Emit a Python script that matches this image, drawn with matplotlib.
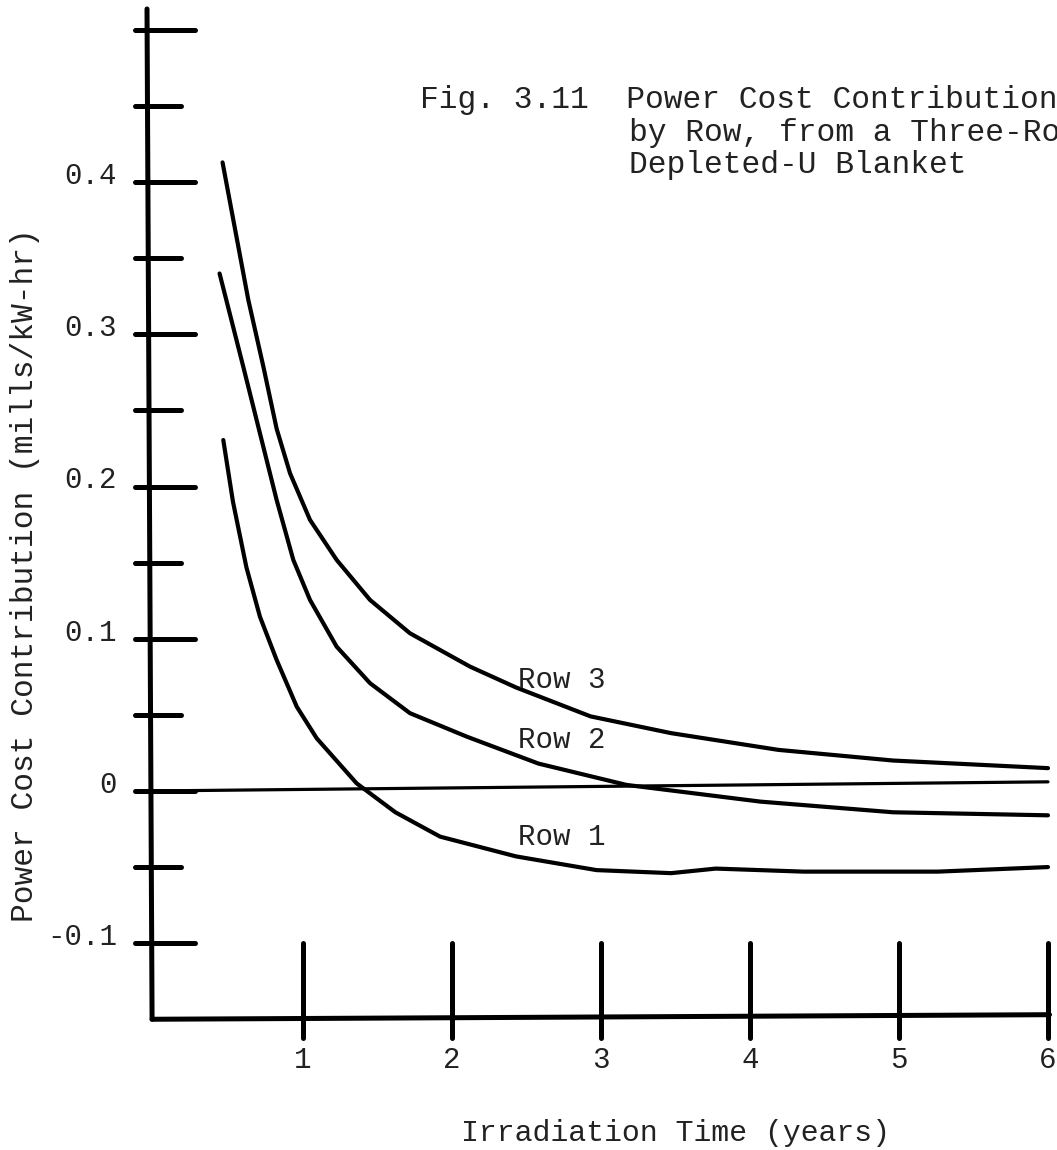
import matplotlib
matplotlib.use("Agg")
import matplotlib.pyplot as plt

# ---- data ----
row3_t = [0.46, 0.633, 0.734, 0.823, 0.913, 1.047, 1.226, 1.45, 1.718, 2.121, 2.43, 2.93, 3.47, 4.19, 4.96, 6.00]
row3_y = [0.413, 0.3226, 0.2788, 0.238, 0.2087, 0.1781, 0.1518, 0.1255, 0.1036, 0.0817, 0.068, 0.049, 0.038, 0.027, 0.020, 0.015]

row2_t = [0.44, 0.599, 0.711, 0.823, 0.935, 1.047, 1.226, 1.45, 1.718, 2.099, 2.58, 3.17, 4.07, 4.96, 6.00]
row2_y = [0.340, 0.2788, 0.2350, 0.1912, 0.1518, 0.1255, 0.0948, 0.0708, 0.0511, 0.0357, 0.018, 0.004, -0.007, -0.014, -0.016]

row1_t = [0.465, 0.53, 0.62, 0.711, 0.823, 0.958, 1.092, 1.36, 1.62, 1.92, 2.43, 2.97, 3.47, 3.77, 4.36, 5.26, 6.00]
row1_y = [0.2306, 0.190, 0.147, 0.1145, 0.0861, 0.0554, 0.0346, 0.005, -0.014, -0.030, -0.043, -0.052, -0.054, -0.051, -0.053, -0.053, -0.050]

zero_t = [-0.013, 6.0]
zero_y = [0.0, 0.006]

row_labels = ["Row 3", "Row 2", "Row 1"]
row_label_y = [0.073, 0.0335, -0.030]

ytick_vals = [-0.1, -0.05, 0.0, 0.05, 0.1, 0.15, 0.2, 0.25, 0.3, 0.35, 0.4, 0.45, 0.5]
ytick_labels = {-0.1: "-0.1", 0.0: "0", 0.1: "0.1", 0.2: "0.2", 0.3: "0.3", 0.4: "0.4"}
xtick_vals = [1, 2, 3, 4, 5, 6]
xtick_labels = ["1", "2", "3", "4", "5", "6"]

title_lines = ["Fig. 3.11  Power Cost Contribution", "by Row, from a Three-Row", "Depleted-U Blanket"]
xlabel = "Irradiation Time (years)"
ylabel = "Power Cost Contribution (mills/kW-hr)"

# ---- figure ----
plt.rcParams['font.family'] = ['Liberation Mono', 'DejaVu Sans Mono']
fig = plt.figure(figsize=(10.57, 11.5), dpi=100)
ax = fig.add_axes([0, 0, 1, 1])
ax.set_xlim(-1.0336, 6.0604)
ax.set_ylim(-0.2359, 0.5197)
ax.axis('off')

k = 'black'
tc = '#222222'
# axes lines (slightly skewed like the scan)
ax.plot([-0.047, -0.013], [0.5138, -0.150], color=k, lw=3.6, solid_capstyle='round')
ax.plot([-0.013, 6.01], [-0.150, -0.147], color=k, lw=3.6, solid_capstyle='round')

# y ticks
for v in ytick_vals:
    major = abs(round(v / 0.1) * 0.1 - v) < 1e-9
    xe = 0.275 if major else 0.181
    ax.plot([-0.128, xe], [v, v], color=k, lw=3.6, solid_capstyle='round')
    if major and round(v, 2) in ytick_labels:
        ax.text(-0.248, v + 0.004, ytick_labels[round(v, 2)], ha='right', va='center',
                fontsize=21, color=tc)

# x ticks
for v, lab in zip(xtick_vals, xtick_labels):
    ax.plot([v, v], [-0.100, -0.162], color=k, lw=3.6, solid_capstyle='round')
    ax.text(v, -0.1767, lab, ha='center', va='center', fontsize=21, color=tc)

# curves
ax.plot(zero_t, zero_y, color=k, lw=2.3, solid_capstyle='round')
for t, y in [(row3_t, row3_y), (row2_t, row2_y), (row1_t, row1_y)]:
    ax.plot(t, y, color=k, lw=3.0, solid_capstyle='round', solid_joinstyle='round')

for lab, yy in zip(row_labels, row_label_y):
    ax.text(2.443, yy, lab, ha='left', va='center', fontsize=21, color=tc)

# title block
ax.text(1.785, 0.454, title_lines[0], ha='left', va='center', fontsize=22.5, color=tc)
ax.text(3.188, 0.432, title_lines[1], ha='left', va='center', fontsize=22.5, color=tc)
ax.text(3.188, 0.411, title_lines[2], ha='left', va='center', fontsize=22.5, color=tc)

# axis labels
ax.text(3.497, -0.2247, xlabel, ha='center', va='center', fontsize=21.5, color=tc)
ax.text(-0.866, 0.142, ylabel, ha='center', va='center', rotation=90, fontsize=22.5, color=tc)

fig.savefig("out.png", dpi=100)
